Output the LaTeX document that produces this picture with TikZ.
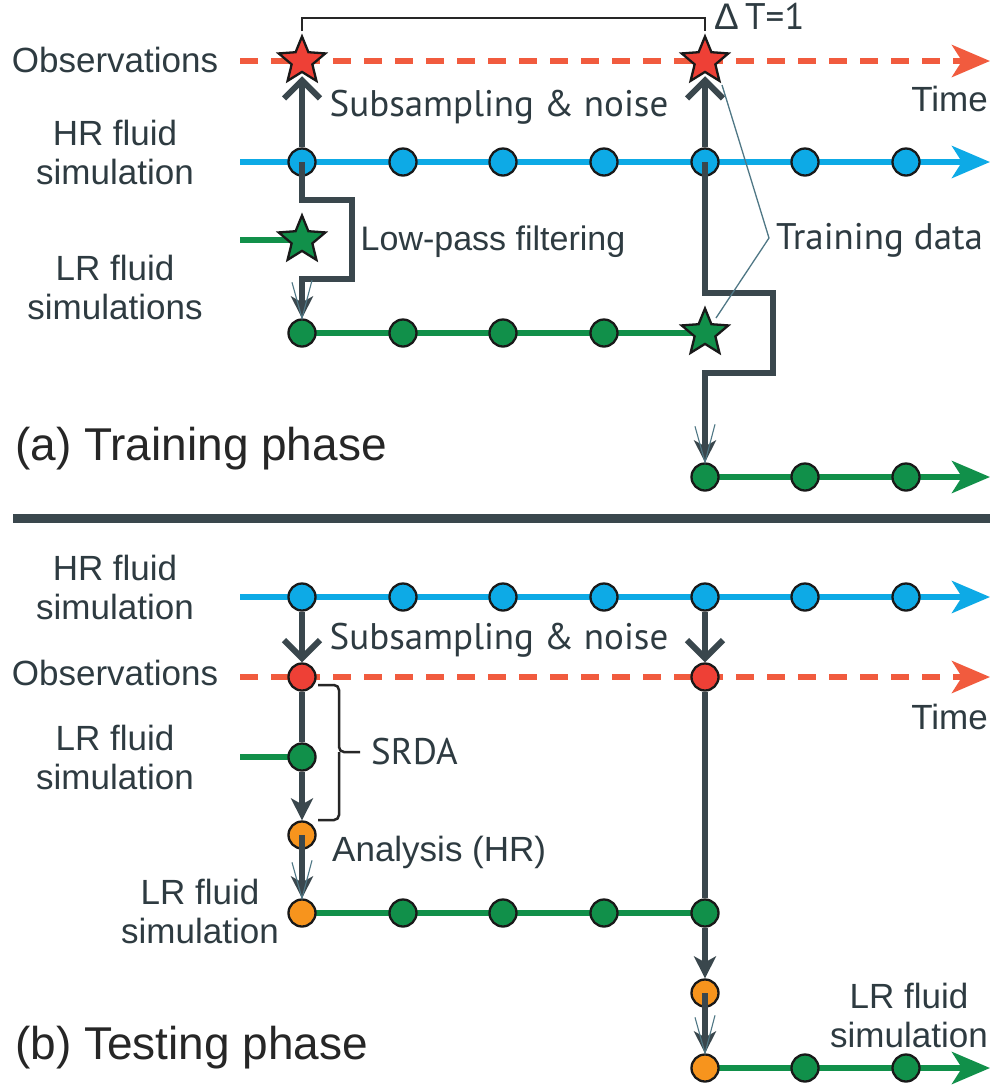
\documentclass[tikz,border=0pt]{standalone}
\usepackage{fontspec}
\setmainfont{Liberation Sans}
\newfontfamily\myr{PT Sans}
\newfontfamily\grk{Liberation Sans}
\usetikzlibrary{shapes.geometric,arrows.meta,calc}
\pgfdeclarelayer{background}
\pgfsetlayers{background,main}
\definecolor{txt}{HTML}{2E3B41}
\definecolor{flow}{HTML}{3A474D}
\definecolor{hrblue}{HTML}{0DAAE6}
\definecolor{lrgreen}{HTML}{11904A}
\definecolor{obsred}{HTML}{EE4036}
\definecolor{dashred}{HTML}{F15B3E}
\definecolor{anaorange}{HTML}{F7941D}
\definecolor{thinteal}{HTML}{4F7785}

\begin{document}
\begin{tikzpicture}[x=1pt,y=-1pt,
  dot/.style={circle, draw=black!90, line width=2.3pt, minimum size=27pt, inner sep=0pt},
  hrdot/.style={dot, fill=hrblue},
  lrdot/.style={dot, fill=lrgreen},
  obsdot/.style={dot, fill=obsred},
  anadot/.style={dot, fill=anaorange},
  starnode/.style={star, star points=5, star point ratio=2.25, minimum size=49pt,
    inner sep=0pt, draw=black!90, line width=2.3pt},
  bigtip/.style={-{Stealth[length=38pt,width=32pt,inset=10pt]}},
  hrline/.style={draw=hrblue, line width=6pt, bigtip},
  lrline/.style={draw=lrgreen, line width=6pt},
  obsline/.style={draw=dashred, line width=6pt, dash pattern=on 18pt off 13pt, bigtip},
  flowline/.style={draw=flow, line width=6pt},
  sub/.style={flowline, -{Straight Barb[length=18pt,width=36pt]}},
  fc/.style={flowline, -{Stealth[length=22pt,width=22pt,inset=6pt]}},
  thinv/.style={draw=thinteal, line width=1.1pt},
  brk/.style={draw=black!85, line width=2.5pt},
  tdline/.style={draw=thinteal, line width=1.3pt},
  lab/.style={text=txt, font=\fontsize{35}{39}\selectfont, align=center, inner sep=0pt},
  mlab/.style={text=txt, font=\myr\fontsize{37}{41}\selectfont, inner sep=0pt},
  phase/.style={text=black!85, font=\fontsize{46}{50}\selectfont, anchor=west, inner sep=0pt}
]
\useasboundingbox (0,0) rectangle (994,1088);
\begin{pgfonlayer}{background}
  \fill[white] (0,0) rectangle (994,1088);
\end{pgfonlayer}

% ---------------- (a) Training phase ----------------
\node[starnode, fill=obsred] (osA1) at (302,61) {};
\node[starnode, fill=obsred] (osA2) at (705,61) {};
\foreach \i/\x in {1/302,2/403,3/503,4/604,5/705,6/805,7/906}
  \node[hrdot] (ha\i) at (\x,162) {};
\node[starnode, fill=lrgreen] (lsA0) at (302,240) {};
\foreach \i/\x in {1/302,2/403,3/503,4/604}
  \node[lrdot] (ga\i) at (\x,333) {};
\node[starnode, fill=lrgreen] (lsA5) at (705,333) {};
\foreach \i/\x in {1/705,2/805,3/906}
  \node[lrdot] (gc\i) at (\x,477) {};

\coordinate (oStartA) at (240,61);
\coordinate (oEndA) at (990,61);
\coordinate (hStartA) at (240,162);
\coordinate (hEndA) at (990,162);
\coordinate (gStubA) at (240,240);
\coordinate (gEndC) at (990,477);

\begin{pgfonlayer}{background}
  \draw[obsline] (oStartA) -- (oEndA);
  \draw[hrline] (hStartA) -- (hEndA);
  \draw[lrline] (gStubA) -- (lsA0.center);
  \draw[lrline] (ga1.center) -- (lsA5.center);
  \draw[lrline, bigtip] (gc1.center) -- (gEndC);
\end{pgfonlayer}

% observation operator
\draw[sub, shorten >=3pt] (ha1) -- (osA1);
\draw[sub, shorten >=3pt] (ha5) -- (osA2);

% low-pass filtering paths
\coordinate (lc1) at (352,200);
\coordinate (lc2) at (352,279);
\draw[fc, line join=miter] (ha1.center) |- (lc1) -- (lc2) -| (ga1.north);
\coordinate (rc1) at (773,293);
\coordinate (rc2) at (773,373);
\draw[fc, line join=miter] (ha5.center) |- (rc1) -- (rc2) -| (gc1.north);

% time interval bracket
\coordinate (dt1) at (302,31);
\coordinate (dt2) at (705,31);
\draw[brk] (dt1) -- ++(0,-13) -| (dt2);

% training data pointer
\coordinate (tdA) at (722,85);
\coordinate (tdM) at (769,238);
\coordinate (tdB) at (716,318);
\draw[tdline] (tdA) -- (tdM) -- (tdB);

% labels
\node[lab] (tObsA) at (115,60) {Observations};
\node[lab] (tHrA) at (115,152) {HR fluid\\simulation};
\node[lab] (tLrA) at (115,287) {LR fluid\\simulations};
\node[mlab] (tSubA) at (499,107) {Subsampling \& noise};
\node[lab, font=\fontsize{34}{38}\selectfont] (tLow) at (493,242) {Low-pass filtering};
\node[mlab, anchor=west] (tTd) at (776,240) {Training data};
\node[mlab, anchor=west] (tDt) at (714,16) {{\grk Δ}\,T=1};
\node[lab, anchor=east] (tTimeA) at (988,99) {Time};
\node[phase] (tPa) at (15,449) {(a) Training phase};

% separator
\draw[draw=flow, line width=9pt] (13,518) -- (990,518);

% ---------------- (b) Testing phase ----------------
\foreach \i/\x in {1/302,2/403,3/503,4/604,5/705,6/805,7/906}
  \node[hrdot] (hb\i) at (\x,597) {};
\node[obsdot] (ob1) at (302,677) {};
\node[obsdot] (ob2) at (705,677) {};
\node[lrdot] (lb1) at (302,757) {};
\node[anadot] (an1) at (302,835) {};
\node[anadot] (an2) at (302,913) {};
\foreach \i/\x in {2/403,3/503,4/604,5/705}
  \node[lrdot] (gd\i) at (\x,913) {};
\node[anadot] (an3) at (705,993) {};
\node[anadot] (an4) at (705,1068) {};
\node[lrdot] (ge2) at (805,1068) {};
\node[lrdot] (ge3) at (906,1068) {};

\coordinate (hStartB) at (240,597);
\coordinate (hEndB) at (990,597);
\coordinate (oStartB) at (240,677);
\coordinate (oEndB) at (990,677);
\coordinate (gStubB) at (240,757);
\coordinate (gEndE) at (990,1068);

\begin{pgfonlayer}{background}
  \draw[hrline] (hStartB) -- (hEndB);
  \draw[obsline] (oStartB) -- (oEndB);
  \draw[lrline] (gStubB) -- (lb1.center);
  \draw[lrline] (an2.center) -- (gd5.center);
  \draw[lrline, bigtip] (an4.center) -- (gEndE);
\end{pgfonlayer}

\draw[sub] (hb1) -- (ob1);
\draw[sub] (hb5) -- (ob2);
\draw[flowline] (ob1) -- (lb1);
\draw[fc] (lb1) -- (an1);
\draw[fc] (an1.center) -- (an2);
\draw[flowline] (ob2) -- (gd5);
\draw[fc] (gd5) -- (an3);
\draw[fc] (an3.center) -- (an4);

% thin outlines on the forecast start arrows
\foreach \n in {ga1,gc1,an2,an4}
  \draw[thinv] ($(\n.north)+(-10,-36)$) -- (\n.north) -- ($(\n.north)+(10,-38)$);

% SRDA bracket
\coordinate (br1) at (318,685);
\coordinate (brm) at (339,752);
\coordinate (brt) at (360,752);
\coordinate (br2) at (318,820);
\draw[brk, rounded corners=5pt] (br1) -| (brm) -- (brt);
\draw[brk, rounded corners=5pt] (br2) -| (brm);

\node[lab] (tHrB) at (115,587) {HR fluid\\simulation};
\node[lab] (tObsB) at (115,673) {Observations};
\node[lab, anchor=east] (tTimeB) at (988,717) {Time};
\node[lab] (tLrB) at (115,757) {LR fluid\\simulation};
\node[mlab] (tSubB) at (499,640) {Subsampling \& noise};
\node[mlab, anchor=west] (tSrda) at (371,752) {SRDA};
\node[lab, anchor=west] (tAna) at (332,852) {Analysis (HR)};
\node[lab] (tLrC) at (200,911) {LR fluid\\simulation};
\node[lab] (tLrD) at (909,1015) {LR fluid\\simulation};
\node[phase] (tPb) at (15,1048) {(b) Testing phase};
\end{tikzpicture}
\end{document}
